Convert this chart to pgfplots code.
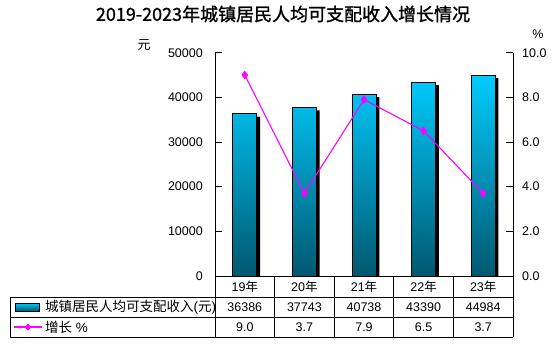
\documentclass[border=0pt]{standalone}
\usepackage{pgfplots}
\pgfplotsset{compat=1.18}
\usepackage{fontspec}
\setmainfont{Liberation Sans}
\newfontfamily\cjk{Noto Sans CJK SC}
\newfontfamily\cjktitle[FakeBold=1.2]{Noto Sans CJK SC}
\definecolor{barTop}{RGB}{0,204,255}
\definecolor{barBot}{RGB}{0,88,112}
\definecolor{lineMag}{RGB}{255,0,255}
\newcommand{\tf}{\fontsize{12.5bp}{14bp}\selectfont}
\begin{document}
\begin{tikzpicture}
\path[use as bounding box] (0,0) rectangle (554bp,-352bp);
% left axis with bars
\begin{axis}[
  at={(215bp,-276bp)}, anchor=south west,
  scale only axis, width=298bp, height=223.3bp,
  xmin=-0.5, xmax=4.5, ymin=0, ymax=50000,
  axis x line*=bottom, axis y line*=left,
  axis line style={-, line width=0.8bp, black},
  xtick=\empty,
  ytick={0,10000,20000,30000,40000,50000},
  tick align=inside, major tick length=7bp,
  tick style={line width=0.8bp, black},
  yticklabel style={font=\tf, anchor=east, inner sep=0pt, xshift=-12bp},
  /pgf/number format/assume math mode=true,
  /pgf/number format/1000 sep={},
  scaled y ticks=false,
]
\addplot[ybar, bar width=24bp, bar shift=3.3bp, fill=black, draw=none, yshift=-3bp]
  coordinates {(0,36386) (1,37743) (2,40738) (3,43390) (4,44984)};
\addplot[ybar, bar width=24bp, bar shift=0pt, draw=black, line width=0.8bp, top color=barTop, bottom color=barBot]
  coordinates {(0,36386) (1,37743) (2,40738) (3,43390) (4,44984)};
\end{axis}
% right axis with line
\begin{axis}[
  at={(215bp,-276bp)}, anchor=south west,
  scale only axis, width=298bp, height=223.3bp,
  xmin=-0.5, xmax=4.5, ymin=0, ymax=10,
  axis x line=none, axis y line*=right,
  axis line style={-, line width=0.8bp, black},
  ytick={0,2,4,6,8,10},
  tick align=inside, major tick length=7bp,
  tick style={line width=0.8bp, black},
  yticklabel style={font=\tf, anchor=west, inner sep=0pt, xshift=9bp,
    /pgf/number format/.cd, fixed, fixed zerofill, precision=1},
  /pgf/number format/assume math mode=true,
]
\addplot[lineMag, line width=1.1bp, mark=diamond*, mark size=3.5bp, mark options={fill=lineMag, draw=lineMag}]
  coordinates {(0,9.0) (1,3.7) (2,7.9) (3,6.5) (4,3.7)};
\end{axis}
% title and axis units
\node[font={\fontsize{18bp}{20bp}\selectfont\cjktitle}] at (283bp,-14bp) {2019-2023年城镇居民人均可支配收入增长情况};
\node[font={\fontsize{13bp}{15bp}\selectfont\cjk}] at (144bp,-45bp) {元};
\node[font=\tf] at (538bp,-34bp) {\%};
% data table
\draw[line width=0.8bp] (10bp,-297bp) -- (513bp,-297bp);
\draw[line width=0.8bp] (10bp,-317bp) -- (513bp,-317bp);
\draw[line width=0.8bp] (10bp,-337bp) -- (513bp,-337bp);
\draw[line width=0.8bp] (10bp,-297bp) -- (10bp,-337bp);
\foreach \k in {0,...,5} {
  \draw[line width=0.8bp] ({215bp+\k*59.6bp},-276bp) -- ({215bp+\k*59.6bp},-337bp);
}
\foreach \lab [count=\i from 0] in {19,20,21,22,23} {
  \node[font=\tf] at ({244.8bp+\i*59.6bp},-286.5bp) {\lab{\cjk 年}};
}
\foreach \v [count=\i from 0] in {36386,37743,40738,43390,44984} {
  \node[font=\tf] at ({244.8bp+\i*59.6bp},-307bp) {\v};
}
\foreach \v [count=\i from 0] in {9.0,3.7,7.9,6.5,3.7} {
  \node[font=\tf] at ({244.8bp+\i*59.6bp},-327bp) {\v};
}
\shade[top color=barTop, bottom color=barBot, draw=black, line width=0.8bp] (15bp,-303bp) rectangle (39bp,-311bp);
\node[anchor=west, inner sep=0pt, font={\fontsize{13.5bp}{15bp}\selectfont}] at (45bp,-307bp) {{\cjk 城镇居民人均可支配收入}({\cjk 元})};
\draw[lineMag, line width=1.1bp] (14bp,-327bp) -- (42bp,-327bp);
\fill[lineMag] (28bp,-323.5bp) -- (31.5bp,-327bp) -- (28bp,-330.5bp) -- (24.5bp,-327bp) -- cycle;
\node[anchor=west, inner sep=0pt, font={\fontsize{13.5bp}{15bp}\selectfont}] at (45bp,-327bp) {{\cjk 增长} \%};
\end{tikzpicture}
\end{document}
